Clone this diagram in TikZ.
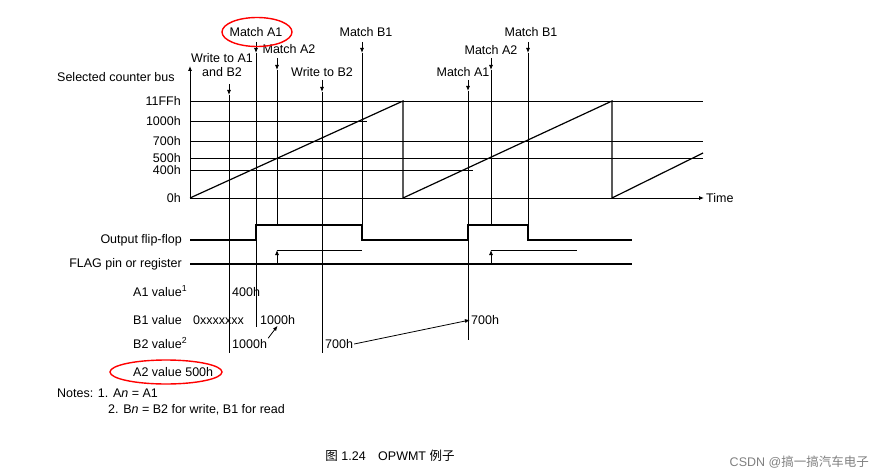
\documentclass[tikz,border=0pt]{standalone}
\usepackage{fontspec}
\setmainfont{Liberation Sans}
\newfontfamily\cjk{Noto Sans CJK SC}
\usetikzlibrary{arrows.meta,shapes.geometric}
\begin{document}
\begin{tikzpicture}[x=1pt,y=-1pt,font=\fontsize{12.5}{14}\selectfont,
    lbl/.style={inner sep=1pt},
    tick/.style={-{Latex[length=5pt,width=4pt]},line width=0.8pt},
    grid/.style={line width=0.8pt},
    sig/.style={line width=1.6pt},
    redmark/.style={draw=red,line width=1.4pt,ellipse}]
  \useasboundingbox (0,0) rectangle (875,476);
  % Axes
  \coordinate (o) at (190,198);
  \coordinate (top) at (190,66);
  \coordinate (tend) at (704,198);
  \draw[tick] (o) -- (top);
  \draw[tick] (o) -- (tend);
  \node[lbl,anchor=west] (time) at (705,198) {Time};
  \node[lbl,anchor=west] (bus) at (56,77) {Selected counter bus};
  % Levels
  \foreach \y/\t/\e in {101/11FFh/703,121/1000h/367,141/700h/703,158/500h/703,170/400h/473}{
    \node[lbl,anchor=east] (lv\t) at (182,\y) {\t};
    \draw[grid] (190,\y) -- (\e,\y);
  }
  \node[lbl,anchor=east] (lv0h) at (182,198) {0h};
  % Ramps
  \draw[line width=1.2pt] (o) -- (403,101) -- (403,198) -- (612,101) -- (612,198) -- (703,153);
  % Events
  \foreach \x/\ly/\ta/\tb/\b in {256/32/42/53/327,362/32/42/53/240,528/32/42/53/240,
      277/49/58/70/225,491/50/58/70/225,322/72/80/92/353,468/72/80/91/340}{
    \draw[tick] (\x,\ta) -- (\x,\tb);
    \draw[grid] (\x,\tb) -- (\x,\b);
  }
  \node[lbl] (ma1) at (256,32) {Match A1};
  \node[lbl] (mb1) at (366,32) {Match B1};
  \node[lbl] (mb1b) at (531,32) {Match B1};
  \node[lbl] (ma2) at (289,49) {Match A2};
  \node[lbl] (ma2b) at (491,50) {Match A2};
  \node[lbl] (wb2) at (322,72) {Write to B2};
  \node[lbl] (ma1b) at (463,72) {Match A1};
  \node[lbl,align=center] (wa1) at (222,65) {Write to A1\\and B2};
  \draw[tick] (229,84) -- (229,95);
  \draw[grid] (229,95) -- (229,353);
  \node[redmark,minimum width=70pt,minimum height=29pt] (ring1) at (257,32) {};
  % Signals
  \node[lbl,anchor=east] (off) at (183,240) {Output flip-flop};
  \node[lbl,anchor=east] (flag) at (183,264) {FLAG pin or register};
  \draw[sig] (190,240) -- (256,240) -- (256,225) -- (362,225) -- (362,240)
    -- (468,240) -- (468,225) -- (528,225) -- (528,240) -- (632,240);
  \draw[sig] (190,264) -- (632,264);
  \draw[tick] (277,264) -- (277,250);
  \draw[grid] (277,250) -- (362,250);
  \draw[tick] (491,264) -- (491,250);
  \draw[grid] (491,250) -- (577,250);
  % Values
  \node[lbl,anchor=west] (a1v) at (132,291) {A1 value\textsuperscript{1}};
  \node[lbl,anchor=west] (b1v) at (132,320) {B1 value};
  \node[lbl,anchor=west] (b2v) at (132,343) {B2 value\textsuperscript{2}};
  \node[lbl,anchor=west] (v400) at (231,292) {400h};
  \node[lbl,anchor=west] (vx) at (192,320) {0xxxxxxx};
  \node[lbl,anchor=west] (b1k) at (259,320) {1000h};
  \node[lbl,anchor=west] (b1s) at (470,320) {700h};
  \node[lbl,anchor=west] (b2k) at (231,344) {1000h};
  \node[lbl,anchor=west] (b2s) at (324,344) {700h};
  \draw[tick] (b2k.north east) -- (b1k.south);
  \draw[tick] (b2s.east) -- (b1s.west);
  \node[lbl,anchor=west] (a2v) at (132,372) {A2 value 500h};
  \node[redmark,minimum width=112pt,minimum height=24pt] (ring2) at (166,372) {};
  % Notes
  \node[lbl,anchor=west] (n1) at (56,393) {Notes: 1. A\textit{n} = A1};
  \node[lbl,anchor=west] (n2) at (107,410) {2. B\textit{n} = B2 for write, B1 for read};
  \node[lbl] (cap) at (390,456) {{\cjk 图} 1.24\quad OPWMT {\cjk 例子}};
  \node[lbl,anchor=east,text=gray] (wm) at (870,462) {CSDN @{\cjk 搞一搞汽车电子}};
\end{tikzpicture}
\end{document}
